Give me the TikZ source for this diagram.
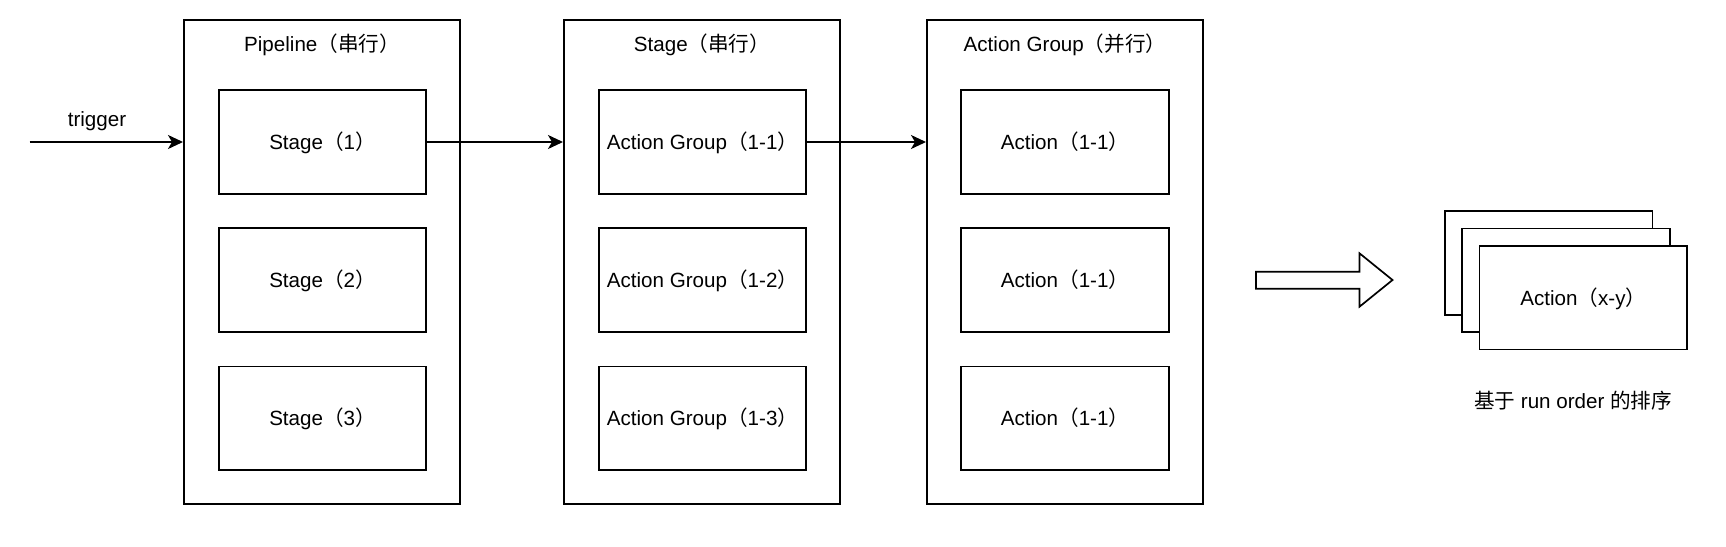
\documentclass[tikz,border=0pt]{standalone}
\usepackage{fontspec}
\setmainfont{Liberation Sans}
\newfontfamily\cjk{Noto Sans CJK SC}
\usetikzlibrary{arrows.meta}
\newcommand{\zh}[1]{{\cjk #1}}

\begin{document}
\begin{tikzpicture}[x=1pt, y=-1pt, line width=1.7pt,
  every node/.style={font=\fontsize{20.6}{24}\selectfont, text height=16pt, text depth=1pt},
  frame/.style={draw, minimum width=276.3pt, minimum height=484.4pt, inner sep=0pt},
  item/.style={draw, fill=white, minimum width=207.5pt, minimum height=103.7pt, inner sep=0pt},
  >={Stealth[length=15pt, width=14pt, inset=4pt]}]
\useasboundingbox (0,0) rectangle (1726,546);

% containers
\node[frame] (pipe) at (322,262) {};
\node[frame] (stg) at (702,262) {};
\node[frame] (grp) at (1065,262) {};
\node (pipetitle) at (322,44) {Pipeline\zh{（串行）}};
\node (stgtitle) at (702,44) {Stage\zh{（串行）}};
\node (grptitle) at (1065,44) {Action Group\zh{（并行）}};

% pipeline stages
\node[item] (s1) at (322.5,142) {Stage\zh{（}1\zh{）}};
\node[item] (s2) at (322.5,280) {Stage\zh{（}2\zh{）}};
\node[item] (s3) at (322.5,418.3) {Stage\zh{（}3\zh{）}};

% action groups
\node[item] (g1) at (702.5,142) {Action Group\zh{（}1-1\zh{）}};
\node[item] (g2) at (702.5,280) {Action Group\zh{（}1-2\zh{）}};
\node[item] (g3) at (702.5,418.3) {Action Group\zh{（}1-3\zh{）}};

% actions
\node[item] (a1) at (1065,142) {Action\zh{（}1-1\zh{）}};
\node[item] (a2) at (1065,280) {Action\zh{（}1-1\zh{）}};
\node[item] (a3) at (1065,418.3) {Action\zh{（}1-1\zh{）}};

% trigger
\coordinate (src) at (29.7,142);
\node (trig) at (97,118.5) {trigger};
\draw[->] (src) -- (src -| pipe.west);
\draw[->] (s1.east) -- (s1.east -| stg.west);
\draw[->] (g1.east) -- (g1.east -| grp.west);

% block arrow
\draw[line join=miter] (1256,271.7) -- (1359.5,271.7) -- (1359.5,253.3) -- (1392.5,280)
  -- (1359.5,306.7) -- (1359.5,288.7) -- (1256,288.7) -- cycle;

% ordered actions
\node[item] (back) at (1548.6,262.9) {};
\node[item] (mid) at (1565.9,280.2) {};
\node[item] (front) at (1583.2,297.5) {Action\zh{（}x-y\zh{）}};
\node (order) at (1573,400.7) {\zh{基于} run order \zh{的排序}};
\end{tikzpicture}
\end{document}
